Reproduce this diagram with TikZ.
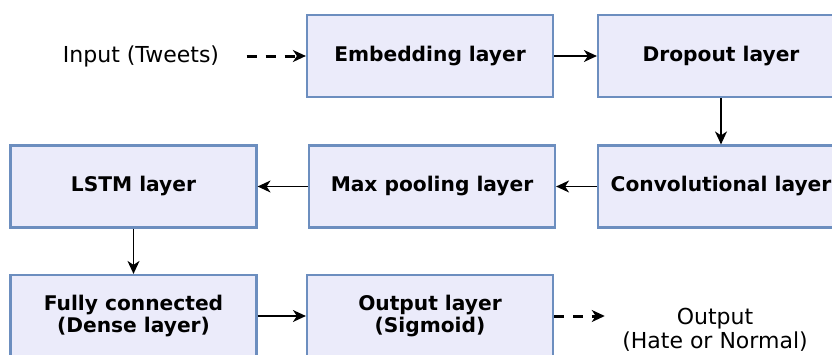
\documentclass[tikz,border=0pt]{standalone}
\usepackage{fontspec}
\setmainfont{DejaVu Sans}
\usetikzlibrary{arrows.meta}

\definecolor{layerfill}{RGB}{235,235,250}
\definecolor{layerdraw}{RGB}{108,142,191}

\begin{document}
\begin{tikzpicture}[
        x=1pt, y=-1pt,
        layer/.style={draw=layerdraw, fill=layerfill, line width=2.2pt, align=center, minimum width=246pt, minimum height=82pt, font=\fontsize{20.2}{22}\selectfont\bfseries},
        plain/.style={align=center, font=\fontsize{22}{24}\selectfont},
        flow/.style={-{Stealth[length=13pt, width=12pt, inset=4pt]}, line width=1.6pt},
        maybe/.style={flow, line width=3pt, dash pattern=on 10pt off 9pt}
    ]
        \useasboundingbox (0,0) rectangle (832,354);
        \clip (0,0) rectangle (832,354);

        \node[plain] (input) at (141,56) {Input (Tweets)};
        \node[layer] (embed) at (430,56) {Embedding layer};
        \node[layer] (dropout) at (721,56) {Dropout layer};
        \node[layer] (conv) at (721,186.5) {Convolutional layer};
        \node[layer] (pool) at (432,186.5) {Max pooling layer};
        \node[layer] (lstm) at (133.5,186.5) {LSTM layer};
        \node[layer] (dense) at (133.5,316) {Fully connected\\(Dense layer)};
        \node[layer] (sigout) at (430,316) {Output layer\\(Sigmoid)};
        \node[plain] (result) at (715,330) {Output\\(Hate or Normal)};

        \draw[maybe, shorten <=24pt] (input) -- (embed);
        \draw[flow] (embed) -- (dropout);
        \draw[flow] (dropout) -- (conv);
        \draw[flow] (conv) -- (pool);
        \draw[flow] (pool) -- (lstm);
        \draw[flow] (lstm) -- (dense);
        \draw[flow] (dense) -- (sigout);
        \draw[maybe, shorten >=14pt] (sigout) -- (sigout -| result.west);
    \end{tikzpicture}
\end{document}
